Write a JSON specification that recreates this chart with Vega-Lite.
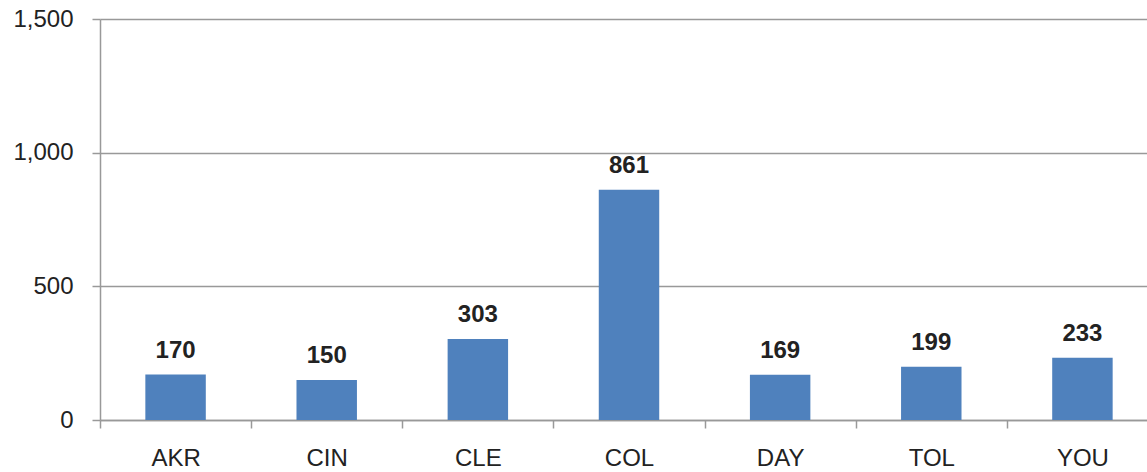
{
  "$schema": "https://vega.github.io/schema/vega-lite/v6.json",
  "width": 1058,
  "height": 401,
  "autosize": "none",
  "padding": {"left": 100, "top": 19, "right": 0, "bottom": 52},
  "config": {"view": {"stroke": null}, "font": "Liberation Sans"},
  "data": {
    "values": [
      {"city": "AKR", "value": 170},
      {"city": "CIN", "value": 150},
      {"city": "CLE", "value": 303},
      {"city": "COL", "value": 861},
      {"city": "DAY", "value": 169},
      {"city": "TOL", "value": 199},
      {"city": "YOU", "value": 233}
    ]
  },
  "encoding": {
    "x": {
      "field": "city",
      "type": "nominal",
      "sort": null,
      "scale": {"paddingInner": 0, "paddingOuter": 0},
      "axis": {
        "title": null,
        "labelAngle": 0,
        "labelFontSize": 24,
        "labelColor": "#222222",
        "labelPadding": 18,
        "ticks": true,
        "tickBand": "extent",
        "tickSize": 8,
        "tickWidth": 1.5,
        "tickColor": "#999999",
        "tickOpacity": 1,
        "domainColor": "#999999",
        "domainWidth": 1.5,
        "grid": false
      }
    },
    "y": {
      "field": "value",
      "type": "quantitative",
      "scale": {"domain": [0, 1500], "nice": false},
      "axis": {
        "title": null,
        "values": [0, 500, 1000, 1500],
        "format": ",d",
        "labelFontSize": 24,
        "labelColor": "#222222",
        "labelPadding": 19,
        "ticks": true,
        "tickSize": 8,
        "tickWidth": 1.5,
        "tickColor": "#999999",
        "tickOpacity": 1,
        "domainColor": "#999999",
        "domainWidth": 1.5,
        "grid": true,
        "gridColor": "#999999",
        "gridWidth": 1.5,
        "gridOpacity": 1
      }
    }
  },
  "layer": [
    {"mark": {"type": "bar", "color": "#4F81BD", "width": {"band": 0.4}}},
    {
      "mark": {"type": "text", "dy": -17, "baseline": "alphabetic", "fontWeight": "bold", "fontSize": 24, "color": "#222222"},
      "encoding": {"text": {"field": "value", "type": "quantitative"}}
    }
  ]
}
